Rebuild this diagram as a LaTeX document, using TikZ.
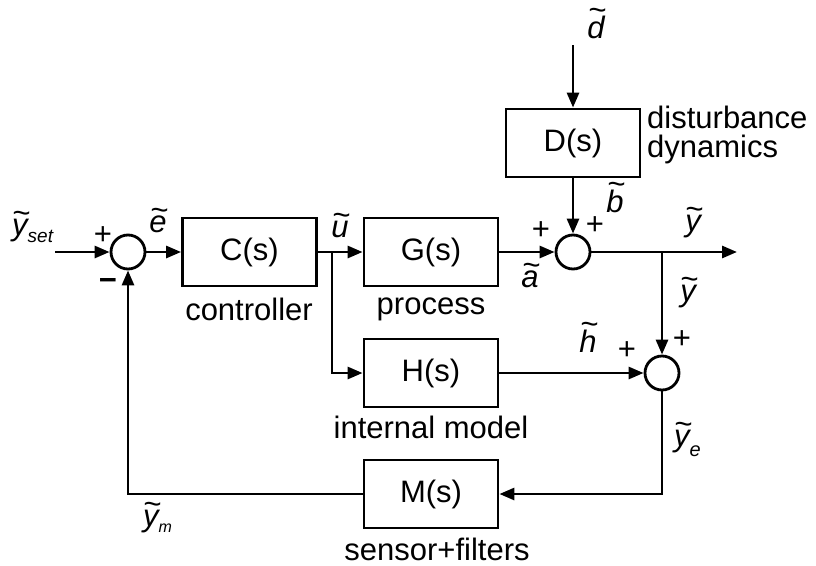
\documentclass[tikz,border=0pt]{standalone}
\usepackage{fontspec}
\setmainfont{Liberation Sans}
\usetikzlibrary{arrows.meta}
% italic letter with a wide tilde over it
\newcommand\tld[1]{{\setbox0\hbox{\itshape #1}\rlap{\hbox to\wd0{\hss\kern0.08em\raisebox{\dimexpr\ht0-0.16em\relax}[0pt][0pt]{\itshape\char`\~}\hss}}\box0}}

\begin{document}
\begin{tikzpicture}[x=1pt,y=-1pt,
  block/.style={draw, line width=2.8pt, minimum width=134pt, minimum height=68pt, font=\fontsize{31}{36}\selectfont},
  sumnode/.style={draw, circle, line width=2.8pt, minimum size=34pt, inner sep=0pt},
  lbl/.style={font=\fontsize{31}{36}\selectfont, inner sep=0pt},
  wire/.style={line width=2.8pt},
  sig/.style={wire, -{Triangle[length=15pt,width=12pt]}}
]
\useasboundingbox (0,0) rectangle (816,565);

% blocks and summing junctions
\node[sumnode] (sum1) at (128,252) {};
\node[block] (C) at (249.5,252) {C(s)};
\node[block] (G) at (431,252) {G(s)};
\node[sumnode] (sum2) at (573,252) {};
\node[block] (D) at (573,143) {D(s)};
\node[block] (H) at (431,373) {H(s)};
\node[sumnode] (sum3) at (662,373) {};
\node[block] (M) at (431,494) {M(s)};

% free ends and branch points
\coordinate (yin) at (55,252);
\coordinate (din) at (573,45);
\coordinate (yout) at (737,252);
\coordinate (ubr) at (332,252);
\coordinate (ybr) at (662,252);

% signals
\draw[sig] (yin) -- (sum1.west);
\draw[sig] (sum1.east) -- (C.west);
\draw[sig] (C.east) -- (G.west);
\draw[sig] (ubr) |- (H.west);
\draw[sig] (G.east) -- (sum2.west);
\draw[sig] (din) -- (D.north);
\draw[sig] (D.south) -- (sum2.north);
\draw[sig] (sum2.east) -- (yout);
\draw[sig] (ybr) -- (sum3.north);
\draw[sig] (H.east) -- (sum3.west);
\draw[sig] (sum3.south) |- (M.east);
\draw[sig] (M.west) -| (sum1.south);

% signal names
\node[lbl, anchor=base west] (lyset) at (12,235) {\tld{y}\raisebox{-7pt}{\fontsize{19}{19}\selectfont\itshape set}};
\node[lbl, anchor=base] (le) at (158,232) {\tld{e}};
\node[lbl, anchor=base] (lu) at (340,237) {\tld{u}};
\node[lbl, anchor=base] (la) at (530,287) {\tld{a}};
\node[lbl, anchor=base] (lb) at (615,212) {\tld{b}};
\node[lbl, anchor=base] (ld) at (596,38) {\tld{d}};
\node[lbl, anchor=base] (ly) at (693,231) {\tld{y}};
\node[lbl, anchor=base] (ly2) at (688,301) {\tld{y}};
\node[lbl, anchor=base] (lh) at (588,352) {\tld{h}};
\node[lbl, anchor=base west] (lye) at (674,446) {\tld{y}\raisebox{-10pt}{\fontsize{20}{20}\selectfont\itshape e}};
\node[lbl, anchor=base west] (lym) at (143,526) {\tld{y}\raisebox{-6pt}{\fontsize{16}{16}\selectfont\itshape m}};

% signs
\node[lbl, anchor=base] (p1) at (103,244) {+};
\node[lbl, anchor=base] (m1) at (108,290) {\textbf{−}};
\node[lbl, anchor=base] (p2) at (541,239) {+};
\node[lbl, anchor=base] (p3) at (595,234) {+};
\node[lbl, anchor=base] (p4) at (627,359) {+};
\node[lbl, anchor=base] (p5) at (682,348) {+};

% block names
\node[lbl, anchor=base] (tC) at (249,320) {controller};
\node[lbl, anchor=base] (tG) at (431,314) {process};
\node[lbl, anchor=base] (tH) at (431,438) {internal model};
\node[lbl, anchor=base] (tM) at (437,560) {sensor+filters};
\node[lbl, anchor=base west] (tD1) at (647,128) {disturbance};
\node[lbl, anchor=base west] (tD2) at (647,157) {dynamics};
\end{tikzpicture}
\end{document}
